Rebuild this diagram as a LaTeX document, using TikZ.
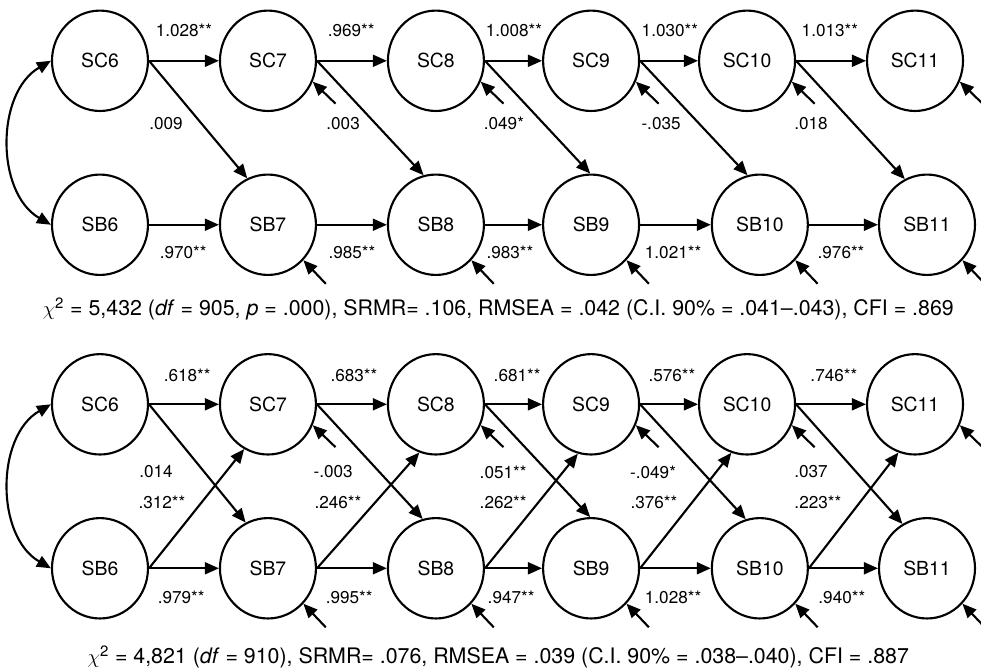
\documentclass[tikz,border=0pt]{standalone}
\usepackage{fontspec}
\setmainfont{TeX Gyre Heros}
\usetikzlibrary{shapes.geometric}
\usetikzlibrary{arrows.meta}

\begin{document}
\begin{tikzpicture}
\useasboundingbox (0.00, 0.00) rectangle (24.53, -16.75);
\begin{scope}[every node/.style={ellipse,line width=1.5pt,draw,inner sep=0pt,
              minimum width=2.40cm,minimum height=2.51cm,
              font=\fontsize{13.8}{16}\selectfont}]
    \node (sc6_1) at (2.50, -1.52) {SC6};
    \node (sc7_1) at (6.70, -1.52) {SC7};
    \node (sc8_1) at (10.90, -1.52) {SC8};
    \node (sc9_1) at (14.78, -1.52) {SC9};
    \node (sc10_1) at (18.68, -1.52) {SC10};
    \node (sc11_1) at (22.88, -1.52) {SC11};
    \node (sb6_1) at (2.50, -5.62) {SB6};
    \node (sb7_1) at (6.70, -5.62) {SB7};
    \node (sb8_1) at (10.90, -5.62) {SB8};
    \node (sb9_1) at (14.78, -5.62) {SB9};
    \node (sb10_1) at (19.00, -5.62) {SB10};
    \node (sb11_1) at (23.18, -5.62) {SB11};
    \node (sc6_2) at (2.50, -10.11) {SC6};
    \node (sc7_2) at (6.70, -10.11) {SC7};
    \node (sc8_2) at (10.90, -10.11) {SC8};
    \node (sc9_2) at (14.78, -10.11) {SC9};
    \node (sc10_2) at (18.68, -10.11) {SC10};
    \node (sc11_2) at (22.88, -10.11) {SC11};
    \node (sb6_2) at (2.50, -14.21) {SB6};
    \node (sb7_2) at (6.70, -14.21) {SB7};
    \node (sb8_2) at (10.90, -14.21) {SB8};
    \node (sb9_2) at (14.78, -14.21) {SB9};
    \node (sb10_2) at (19.00, -14.21) {SB10};
    \node (sb11_2) at (23.18, -14.21) {SB11};
\end{scope}
\begin{scope}[>={Triangle[length=10pt,width=8.5pt]},
              path_edge/.style={draw=black,line width=1.5pt},
              cov_edge/.style={draw=black,line width=1.5pt,out=210,in=150},
              res_edge/.style={draw=black,line width=1.5pt}]
    % model 1
    \path [<->] (sc6_1.west) edge [cov_edge] (sb6_1.west);
    \path [->] (sc6_1) edge [path_edge] (sc7_1);
    \path [->] (sc7_1) edge [path_edge] (sc8_1);
    \path [->] (sc8_1) edge [path_edge] (sc9_1);
    \path [->] (sc9_1) edge [path_edge] (sc10_1);
    \path [->] (sc10_1) edge [path_edge] (sc11_1);
    \path [->] (sb6_1) edge [path_edge] (sb7_1);
    \path [->] (sb7_1) edge [path_edge] (sb8_1);
    \path [->] (sb8_1) edge [path_edge] (sb9_1);
    \path [->] (sb9_1) edge [path_edge] (sb10_1);
    \path [->] (sb10_1) edge [path_edge] (sb11_1);
    \path [->] (sc6_1.east) edge [path_edge] (sb7_1.114);
    \path [->] (sc7_1.east) edge [path_edge] (sb8_1.104);
    \path [->] (sc8_1.east) edge [path_edge] (sb9_1.91);
    \path [->] (sc9_1.east) edge [path_edge] (sb10_1.104);
    \path [->] (sc10_1.east) edge [path_edge] (sb11_1.116);
    \coordinate (rsc7_1) at ([shift={(0.57,-0.55)}]sc7_1.335);
    \coordinate (rsc8_1) at ([shift={(0.57,-0.55)}]sc8_1.335);
    \coordinate (rsc9_1) at ([shift={(0.57,-0.55)}]sc9_1.335);
    \coordinate (rsc10_1) at ([shift={(0.57,-0.55)}]sc10_1.335);
    \coordinate (rsc11_1) at ([shift={(0.57,-0.55)}]sc11_1.335);
    \coordinate (rsb7_1) at ([shift={(0.56,-0.59)}]sb7_1.315);
    \coordinate (rsb8_1) at ([shift={(0.56,-0.59)}]sb8_1.315);
    \coordinate (rsb9_1) at ([shift={(0.56,-0.59)}]sb9_1.315);
    \coordinate (rsb10_1) at ([shift={(0.56,-0.59)}]sb10_1.315);
    \coordinate (rsb11_1) at ([shift={(0.56,-0.59)}]sb11_1.315);
    \path [->] (rsc7_1) edge [res_edge] (sc7_1.335);
    \path [->] (rsc8_1) edge [res_edge] (sc8_1.335);
    \path [->] (rsc9_1) edge [res_edge] (sc9_1.335);
    \path [->] (rsc10_1) edge [res_edge] (sc10_1.335);
    \path [->] (rsc11_1) edge [res_edge] (sc11_1.335);
    \path [->] (rsb7_1) edge [res_edge] (sb7_1.315);
    \path [->] (rsb8_1) edge [res_edge] (sb8_1.315);
    \path [->] (rsb9_1) edge [res_edge] (sb9_1.315);
    \path [->] (rsb10_1) edge [res_edge] (sb10_1.315);
    \path [->] (rsb11_1) edge [res_edge] (sb11_1.315);
    % model 2
    \path [<->] (sc6_2.west) edge [cov_edge] (sb6_2.west);
    \path [->] (sc6_2) edge [path_edge] (sc7_2);
    \path [->] (sc7_2) edge [path_edge] (sc8_2);
    \path [->] (sc8_2) edge [path_edge] (sc9_2);
    \path [->] (sc9_2) edge [path_edge] (sc10_2);
    \path [->] (sc10_2) edge [path_edge] (sc11_2);
    \path [->] (sb6_2) edge [path_edge] (sb7_2);
    \path [->] (sb7_2) edge [path_edge] (sb8_2);
    \path [->] (sb8_2) edge [path_edge] (sb9_2);
    \path [->] (sb9_2) edge [path_edge] (sb10_2);
    \path [->] (sb10_2) edge [path_edge] (sb11_2);
    \path [->] (sc6_2.east) edge [path_edge] (sb7_2.116);
    \path [->] (sc7_2.east) edge [path_edge] (sb8_2.105);
    \path [->] (sc8_2.east) edge [path_edge] (sb9_2.91);
    \path [->] (sc9_2.east) edge [path_edge] (sb10_2.106);
    \path [->] (sc10_2.east) edge [path_edge] (sb11_2.119);
    \path [->] (sb6_2.east) edge [path_edge] (sc7_2.242);
    \path [->] (sb7_2.east) edge [path_edge] (sc8_2.251);
    \path [->] (sb8_2.east) edge [path_edge] (sc9_2.255);
    \path [->] (sb9_2.east) edge [path_edge] (sc10_2.252);
    \path [->] (sb10_2.east) edge [path_edge] (sc11_2.251);
    \coordinate (rsc7_2) at ([shift={(0.57,-0.55)}]sc7_2.335);
    \coordinate (rsc8_2) at ([shift={(0.57,-0.55)}]sc8_2.335);
    \coordinate (rsc9_2) at ([shift={(0.57,-0.55)}]sc9_2.335);
    \coordinate (rsc10_2) at ([shift={(0.57,-0.55)}]sc10_2.335);
    \coordinate (rsc11_2) at ([shift={(0.57,-0.55)}]sc11_2.335);
    \coordinate (rsb7_2) at ([shift={(0.56,-0.59)}]sb7_2.315);
    \coordinate (rsb8_2) at ([shift={(0.56,-0.59)}]sb8_2.315);
    \coordinate (rsb9_2) at ([shift={(0.56,-0.59)}]sb9_2.315);
    \coordinate (rsb10_2) at ([shift={(0.56,-0.59)}]sb10_2.315);
    \coordinate (rsb11_2) at ([shift={(0.56,-0.59)}]sb11_2.315);
    \path [->] (rsc7_2) edge [res_edge] (sc7_2.335);
    \path [->] (rsc8_2) edge [res_edge] (sc8_2.335);
    \path [->] (rsc9_2) edge [res_edge] (sc9_2.335);
    \path [->] (rsc10_2) edge [res_edge] (sc10_2.335);
    \path [->] (rsc11_2) edge [res_edge] (sc11_2.335);
    \path [->] (rsb7_2) edge [res_edge] (sb7_2.315);
    \path [->] (rsb8_2) edge [res_edge] (sb8_2.315);
    \path [->] (rsb9_2) edge [res_edge] (sb9_2.315);
    \path [->] (rsb10_2) edge [res_edge] (sb10_2.315);
    \path [->] (rsb11_2) edge [res_edge] (sb11_2.315);
\end{scope}
\begin{scope}[every node/.style={inner sep=1pt,font=\fontsize{12.2}{14}\selectfont},
              fit_text/.style={font=\fontsize{15.2}{17}\selectfont}]
    % model 1
    \node (c67_1) at (4.60, -0.75) {1.028**};
    \node (c78_1) at (8.78, -0.75) {.969**};
    \node (c89_1) at (12.85, -0.75) {1.008**};
    \node (c910_1) at (16.75, -0.75) {1.030**};
    \node (c1011_1) at (20.75, -0.75) {1.013**};
    \node (x67_1) at (4.15, -3.08) {.009};
    \node (x78_1) at (8.58, -3.08) {.003};
    \node (x89_1) at (12.60, -3.08) {.049*};
    \node (x910_1) at (16.53, -3.08) {-.035};
    \node (x1011_1) at (20.28, -3.08) {.018};
    \node (b67_1) at (4.58, -6.30) {.970**};
    \node (b78_1) at (8.80, -6.30) {.985**};
    \node (b89_1) at (12.75, -6.30) {.983**};
    \node (b910_1) at (16.83, -6.30) {1.021**};
    \node (b1011_1) at (21.03, -6.30) {.976**};
    \node [fit_text] (fit_1) at (12.46, -7.72)
        {$\chi$\textsuperscript{2} = 5,432 (\textit{df} = 905, \textit{p} = .000), SRMR= .106, RMSEA = .042 (C.I. 90\% = .041--.043), CFI = .869};
    % model 2
    \node (c67_2) at (4.68, -9.38) {.618**};
    \node (c78_2) at (8.85, -9.38) {.683**};
    \node (c89_2) at (12.93, -9.38) {.681**};
    \node (c910_2) at (16.80, -9.38) {.576**};
    \node (c1011_2) at (20.85, -9.38) {.746**};
    \node (x67_2) at (3.90, -11.80) {.014};
    \node (x78_2) at (8.33, -11.80) {-.003};
    \node (x89_2) at (12.58, -11.80) {.051**};
    \node (x910_2) at (16.33, -11.80) {-.049*};
    \node (x1011_2) at (20.28, -11.80) {.037};
    \node (y67_2) at (4.05, -12.55) {.312**};
    \node (y78_2) at (8.45, -12.55) {.246**};
    \node (y89_2) at (12.58, -12.55) {.262**};
    \node (y910_2) at (16.35, -12.55) {.376**};
    \node (y1011_2) at (20.45, -12.55) {.223**};
    \node (b67_2) at (4.53, -14.93) {.979**};
    \node (b78_2) at (8.73, -14.93) {.995**};
    \node (b89_2) at (12.78, -14.93) {.947**};
    \node (b910_2) at (16.83, -14.93) {1.028**};
    \node (b1011_2) at (21.05, -14.93) {.940**};
    \node [fit_text] (fit_2) at (12.46, -16.42)
        {$\chi$\textsuperscript{2} = 4,821 (\textit{df} = 910), SRMR= .076, RMSEA = .039 (C.I. 90\% = .038--.040), CFI = .887};
\end{scope}
\end{tikzpicture}
\end{document}
